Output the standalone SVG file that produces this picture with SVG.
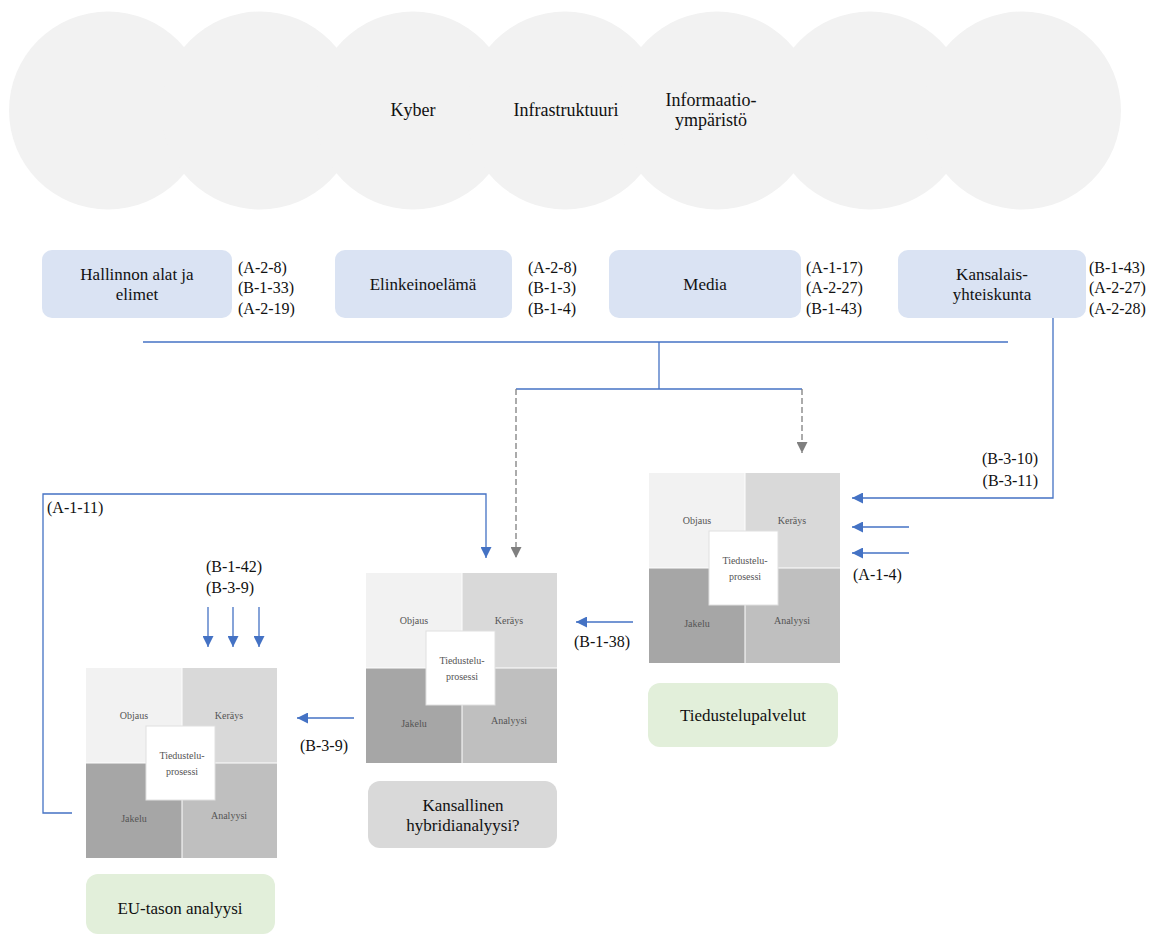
<svg xmlns="http://www.w3.org/2000/svg" width="1151" height="936" viewBox="0 0 1151 936">
<style>
text{font-family:'Liberation Serif','DejaVu Serif','Times New Roman',serif;fill:#111;dominant-baseline:central}
.big{font-size:18px;text-anchor:middle}
.bt{font-size:17px;text-anchor:middle}
.lb{font-size:16px}
.lbr{font-size:16px;text-anchor:end}
.circ{fill:#f2f2f2}
.blue{fill:#dae3f3}
.green{fill:#e2efda}
.grey{fill:#d9d9d9}
.q{font-size:10px;text-anchor:middle;fill:#555}
.ln{fill:none;stroke:#4472c4;stroke-width:1.3}
.dash{fill:none;stroke:#7f7f7f;stroke-width:1.3;stroke-dasharray:6 3}
</style>
<defs>
<marker id="ab" viewBox="0 0 10 10" refX="10" refY="5" markerUnits="userSpaceOnUse" markerWidth="11" markerHeight="11" orient="auto"><path d="M0,0 L10,5 L0,10 z" fill="#4472c4"/></marker>
<marker id="ag" viewBox="0 0 10 10" refX="10" refY="5" markerUnits="userSpaceOnUse" markerWidth="11" markerHeight="11" orient="auto"><path d="M0,0 L10,5 L0,10 z" fill="#7f7f7f"/></marker>
</defs>
<g id="domains">
<circle class="circ" cx="108" cy="110.5" r="99"/>
<circle class="circ" cx="260" cy="110.5" r="99"/>
<circle class="circ" cx="413" cy="110.5" r="99"/>
<circle class="circ" cx="565" cy="110.5" r="99"/>
<circle class="circ" cx="717" cy="110.5" r="99"/>
<circle class="circ" cx="870" cy="110.5" r="99"/>
<circle class="circ" cx="1022" cy="110.5" r="99"/>
<text class="big" x="413" y="110">Kyber</text>
<text class="big" x="566" y="110">Infrastruktuuri</text>
<text class="big" x="711" y="100">Informaatio-</text>
<text class="big" x="711" y="120">ympäristö</text>
</g>
<g id="hallinto">
<rect class="blue" x="42" y="250" width="190" height="68" rx="10"/>
<text class="bt" x="137" y="274">Hallinnon alat ja</text>
<text class="bt" x="137" y="294">elimet</text>
<text class="lb" x="238" y="267">(A-2-8)</text>
<text class="lb" x="238" y="287.5">(B-1-33)</text>
<text class="lb" x="238" y="308">(A-2-19)</text>
</g>
<g id="elinkeino">
<rect class="blue" x="335" y="250" width="177" height="68" rx="10"/>
<text class="bt" x="423" y="284">Elinkeinoelämä</text>
<text class="lb" x="528" y="267">(A-2-8)</text>
<text class="lb" x="528" y="287.5">(B-1-3)</text>
<text class="lb" x="528" y="308">(B-1-4)</text>
</g>
<g id="media">
<rect class="blue" x="609" y="250" width="192" height="68" rx="10"/>
<text class="bt" x="705" y="284">Media</text>
<text class="lb" x="806" y="267">(A-1-17)</text>
<text class="lb" x="806" y="287.5">(A-2-27)</text>
<text class="lb" x="806" y="308">(B-1-43)</text>
</g>
<g id="kansalais">
<rect class="blue" x="898" y="250" width="188" height="68" rx="10"/>
<text class="bt" x="992" y="274">Kansalais-</text>
<text class="bt" x="992" y="294">yhteiskunta</text>
<text class="lb" x="1089" y="267">(B-1-43)</text>
<text class="lb" x="1089" y="287.5">(A-2-27)</text>
<text class="lb" x="1089" y="308">(A-2-28)</text>
</g>
<g id="connectors">
<path class="ln" d="M143,342 H1008"/>
<path class="ln" d="M659,342 V389"/>
<path class="ln" d="M516,389 H802"/>
<path class="dash" d="M516,389 V558" marker-end="url(#ag)"/>
<path class="dash" d="M802,389 V453" marker-end="url(#ag)"/>
<path class="ln" d="M1053,318 V498 H852" marker-end="url(#ab)"/>
<path class="ln" d="M909,527 H852" marker-end="url(#ab)"/>
<path class="ln" d="M909,553 H852" marker-end="url(#ab)"/>
<path class="ln" d="M633,622 H576" marker-end="url(#ab)"/>
<path class="ln" d="M354,718 H297" marker-end="url(#ab)"/>
<path class="ln" d="M208,607 V647" marker-end="url(#ab)"/>
<path class="ln" d="M233,607 V647" marker-end="url(#ab)"/>
<path class="ln" d="M259,607 V647" marker-end="url(#ab)"/>
<path class="ln" d="M72,813 H43 V494 H486 V558" marker-end="url(#ab)"/>
<text class="lbr" x="1038" y="458">(B-3-10)</text>
<text class="lbr" x="1038" y="480">(B-3-11)</text>
<text class="lb" x="853" y="574">(A-1-4)</text>
<text class="lb" x="574" y="641">(B-1-38)</text>
<text class="lb" x="300" y="745">(B-3-9)</text>
<text class="lb" x="206" y="566">(B-1-42)</text>
<text class="lb" x="206" y="587">(B-3-9)</text>
<text class="lb" x="47" y="507">(A-1-11)</text>
</g>
<g id="process-palvelut" transform="translate(649,473)">
<rect x="0" y="0" width="95.5" height="94.5" fill="#f2f2f2"/>
<rect x="96.5" y="0" width="94.5" height="94.5" fill="#d9d9d9"/>
<rect x="0" y="95.5" width="95.5" height="94.5" fill="#a6a6a6"/>
<rect x="96.5" y="95.5" width="94.5" height="94.5" fill="#bfbfbf"/>
<rect x="60" y="58" width="69" height="74" fill="#fff" stroke="#e0e0e0" stroke-width="1"/>
<text class="q" x="48" y="47">Objaus</text>
<text class="q" x="143" y="47">Keräys</text>
<text class="q" x="48" y="150">Jakelu</text>
<text class="q" x="143" y="147">Analyysi</text>
<text class="q" x="96" y="87">Tiedustelu-</text>
<text class="q" x="96" y="103">prosessi</text>
</g>
<g id="process-kansallinen" transform="translate(366,573)">
<rect x="0" y="0" width="95.5" height="94.5" fill="#f2f2f2"/>
<rect x="96.5" y="0" width="94.5" height="94.5" fill="#d9d9d9"/>
<rect x="0" y="95.5" width="95.5" height="94.5" fill="#a6a6a6"/>
<rect x="96.5" y="95.5" width="94.5" height="94.5" fill="#bfbfbf"/>
<rect x="60" y="58" width="69" height="74" fill="#fff" stroke="#e0e0e0" stroke-width="1"/>
<text class="q" x="48" y="47">Objaus</text>
<text class="q" x="143" y="47">Keräys</text>
<text class="q" x="48" y="150">Jakelu</text>
<text class="q" x="143" y="147">Analyysi</text>
<text class="q" x="96" y="87">Tiedustelu-</text>
<text class="q" x="96" y="103">prosessi</text>
</g>
<g id="process-eu" transform="translate(86,668)">
<rect x="0" y="0" width="95.5" height="94.5" fill="#f2f2f2"/>
<rect x="96.5" y="0" width="94.5" height="94.5" fill="#d9d9d9"/>
<rect x="0" y="95.5" width="95.5" height="94.5" fill="#a6a6a6"/>
<rect x="96.5" y="95.5" width="94.5" height="94.5" fill="#bfbfbf"/>
<rect x="60" y="58" width="69" height="74" fill="#fff" stroke="#e0e0e0" stroke-width="1"/>
<text class="q" x="48" y="47">Objaus</text>
<text class="q" x="143" y="47">Keräys</text>
<text class="q" x="48" y="150">Jakelu</text>
<text class="q" x="143" y="147">Analyysi</text>
<text class="q" x="96" y="87">Tiedustelu-</text>
<text class="q" x="96" y="103">prosessi</text>
</g>
<g id="tiedustelupalvelut">
<rect class="green" x="648" y="683" width="190" height="64" rx="12"/>
<text class="bt" x="743" y="715">Tiedustelupalvelut</text>
</g>
<g id="kansallinen">
<rect class="grey" x="368" y="781" width="189" height="67" rx="12"/>
<text class="bt" x="463" y="805">Kansallinen</text>
<text class="bt" x="463" y="825">hybridianalyysi?</text>
</g>
<g id="eu-taso">
<rect class="green" x="86" y="874" width="189" height="60" rx="12"/>
<text class="bt" x="180" y="908">EU-tason analyysi</text>
</g>
</svg>
